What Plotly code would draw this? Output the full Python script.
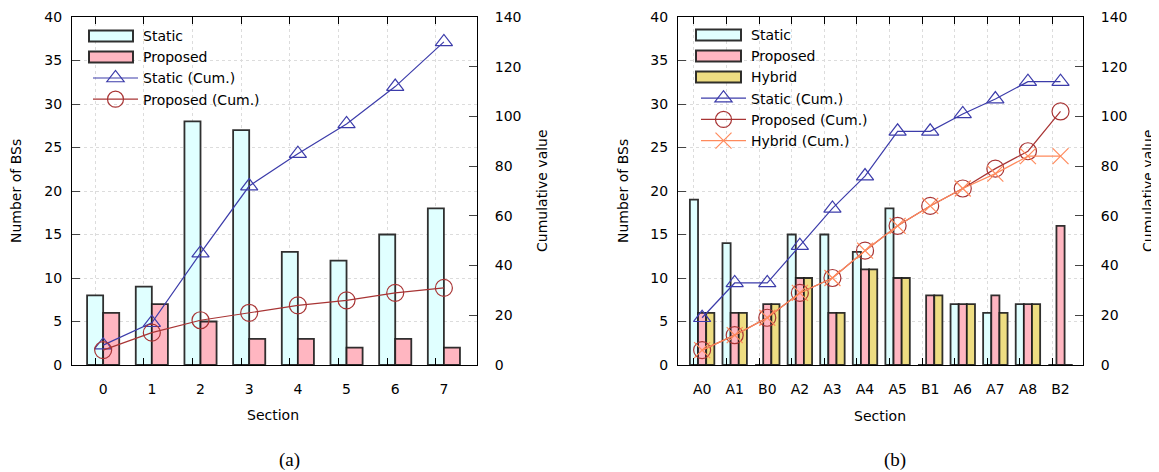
import plotly.graph_objects as go

# ---------------- data ----------------
sections_a = ["0", "1", "2", "3", "4", "5", "6", "7"]
static_a = [8, 9, 28, 27, 13, 12, 15, 18]
proposed_a = [6, 7, 5, 3, 3, 2, 3, 2]
static_cum_a = [8, 17, 45, 72, 85, 97, 112, 130]
proposed_cum_a = [6, 13, 18, 21, 24, 26, 29, 31]

sections_b = ["A0", "A1", "B0", "A2", "A3", "A4", "A5", "B1", "A6", "A7", "A8", "B2"]
static_b = [19, 14, 0, 15, 15, 13, 18, 0, 7, 6, 7, 0]
proposed_b = [6, 6, 7, 10, 6, 11, 10, 8, 7, 8, 7, 16]
hybrid_b = [6, 6, 7, 10, 6, 11, 10, 8, 7, 6, 7, 0]
static_cum_b = [19, 33, 33, 48, 63, 76, 94, 94, 101, 107, 114, 114]
proposed_cum_b = [6, 12, 19, 29, 35, 46, 56, 64, 71, 79, 86, 102]
hybrid_cum_b = [6, 12, 19, 29, 35, 46, 56, 64, 71, 77, 84, 84]

left_ticks = [0, 5, 10, 15, 20, 25, 30, 35, 40]
right_ticks = [0, 20, 40, 60, 80, 100, 120, 140]

# ---------------- style ----------------
PAGE_OFF = 8          # default body margin of the html page
W, H = 1159 - PAGE_OFF, 472 - PAGE_OFF
FONT = "DejaVu Sans"
FS = 14
C_STATIC = "#e0ffff"
C_PROP = "#ffb6c1"
C_HYB = "#eedd82"
L_STATIC = "#3c3caa"
L_PROP = "#a83434"
L_HYB = "#ff8a5c"
OUTLINE = dict(color="rgba(25,25,25,0.9)", width=1.8)

xa = list(range(len(sections_a)))
xb = list(range(len(sections_b)))

def px_x(p):
    return (p - PAGE_OFF) / W

def px_y(p):
    return 1 - (p - PAGE_OFF) / H

fig = go.Figure()

def legend_dummy(name, legend):
    fig.add_trace(go.Scatter(x=[None], y=[None], mode="lines", name=name,
                             line=dict(color="rgba(0,0,0,0)", width=0),
                             xaxis="x", yaxis="y", legend=legend, hoverinfo="skip"))

# ----- panel (a) -----
legend_dummy("Static", "legend")
legend_dummy("Proposed", "legend")
fig.add_trace(go.Bar(x=xa, y=static_a, width=0.33, offset=-0.33, name="Static",
                     marker=dict(color=C_STATIC, line=OUTLINE), showlegend=False,
                     xaxis="x", yaxis="y"))
fig.add_trace(go.Bar(x=xa, y=proposed_a, width=0.33, offset=0.0, name="Proposed",
                     marker=dict(color=C_PROP, line=OUTLINE), showlegend=False,
                     xaxis="x", yaxis="y"))
fig.add_trace(go.Scatter(x=xa, y=static_cum_a, mode="lines+markers", name="Static (Cum.)",
                         line=dict(color=L_STATIC, width=1.2),
                         marker=dict(symbol="triangle-up-open", size=15,
                                     line=dict(color=L_STATIC, width=1.2)),
                         xaxis="x", yaxis="y2", legend="legend"))
fig.add_trace(go.Scatter(x=xa, y=proposed_cum_a, mode="lines+markers", name="Proposed (Cum.)",
                         line=dict(color=L_PROP, width=1.2),
                         marker=dict(symbol="circle-open", size=17,
                                     line=dict(color=L_PROP, width=1.2)),
                         xaxis="x", yaxis="y2", legend="legend"))

# ----- panel (b) -----
legend_dummy("Static", "legend2")
legend_dummy("Proposed", "legend2")
legend_dummy("Hybrid", "legend2")
fig.add_trace(go.Bar(x=xb, y=static_b, width=0.25, offset=-0.375, name="Static",
                     marker=dict(color=C_STATIC, line=OUTLINE), showlegend=False,
                     xaxis="x2", yaxis="y3"))
fig.add_trace(go.Bar(x=xb, y=proposed_b, width=0.25, offset=-0.125, name="Proposed",
                     marker=dict(color=C_PROP, line=OUTLINE), showlegend=False,
                     xaxis="x2", yaxis="y3"))
fig.add_trace(go.Bar(x=xb, y=hybrid_b, width=0.25, offset=0.125, name="Hybrid",
                     marker=dict(color=C_HYB, line=OUTLINE), showlegend=False,
                     xaxis="x2", yaxis="y3"))
fig.add_trace(go.Scatter(x=xb, y=static_cum_b, mode="lines+markers", name="Static (Cum.)",
                         line=dict(color=L_STATIC, width=1.2),
                         marker=dict(symbol="triangle-up-open", size=15,
                                     line=dict(color=L_STATIC, width=1.2)),
                         xaxis="x2", yaxis="y4", legend="legend2"))
fig.add_trace(go.Scatter(x=xb, y=proposed_cum_b, mode="lines+markers", name="Proposed (Cum.)",
                         line=dict(color=L_PROP, width=1.2),
                         marker=dict(symbol="circle-open", size=17,
                                     line=dict(color=L_PROP, width=1.2)),
                         xaxis="x2", yaxis="y4", legend="legend2"))
fig.add_trace(go.Scatter(x=xb, y=hybrid_cum_b, mode="lines+markers", name="Hybrid (Cum.)",
                         line=dict(color=L_HYB, width=1.2),
                         marker=dict(symbol="x-thin-open", size=16,
                                     line=dict(color=L_HYB, width=1.2)),
                         xaxis="x2", yaxis="y4", legend="legend2"))

# invisible carriers for grid/tick overlay axes
fig.add_trace(go.Scatter(x=[None], y=[None], xaxis="x3", yaxis="y", showlegend=False, hoverinfo="skip"))
fig.add_trace(go.Scatter(x=[None], y=[None], xaxis="x4", yaxis="y3", showlegend=False, hoverinfo="skip"))

# ---------------- geometry ----------------
dom_a = [px_x(72), px_x(477)]
dom_b = [px_x(678), px_x(1083)]
dom_y = [px_y(365), px_y(17)]

rng_a = [-0.64, 7.68]
rng_b = [-0.74, 11.69]

tickfont = dict(family=FONT, size=FS, color="black")
grid = dict(showgrid=True, gridcolor="#dcdcdc", griddash="dot", gridwidth=1)

def label_xaxis(domain, rng, vals, text):
    return dict(domain=domain, range=rng, tickmode="array", tickvals=vals, ticktext=text,
                ticks="", showgrid=False, zeroline=False, showline=True, linecolor="black",
                linewidth=1, mirror=True, tickfont=tickfont, ticklabelstandoff=11,
                automargin=False, fixedrange=True)

def grid_xaxis(over, anchor, rng, vals):
    return dict(overlaying=over, anchor=anchor, range=rng, tickmode="array", tickvals=vals,
                ticks="inside", ticklen=7, tickcolor="black", mirror="ticks", showline=True,
                linecolor="black", showticklabels=False, zeroline=False, automargin=False,
                **grid)

def left_yaxis(anchor):
    return dict(domain=dom_y, range=[0, 40], tickmode="array", tickvals=left_ticks,
                ticks="inside", ticklen=8, showline=True, linecolor="black", zeroline=False,
                tickfont=tickfont, anchor=anchor, automargin=False, ticklabelstandoff=6, **grid)

def right_yaxis(over, anchor):
    return dict(overlaying=over, side="right", anchor=anchor, range=[0, 140], tickmode="array",
                tickvals=right_ticks, ticks="inside", ticklen=8, showline=True,
                linecolor="black", showgrid=False, zeroline=False, tickfont=tickfont,
                automargin=False, ticklabelstandoff=14)

fig.update_layout(
    width=W, height=H,
    margin=dict(l=0, r=0, t=0, b=0),
    paper_bgcolor="white", plot_bgcolor="white",
    font=dict(family=FONT, size=FS, color="black"),
    barmode="overlay",
    xaxis=dict(anchor="y", **label_xaxis(dom_a, rng_a, xa, sections_a)),
    xaxis3=grid_xaxis("x", "y", rng_a, [v - 0.165 for v in xa]),
    yaxis=left_yaxis("x"),
    yaxis2=right_yaxis("y", "x"),
    xaxis2=dict(anchor="y3", **label_xaxis(dom_b, rng_b, xb, sections_b)),
    xaxis4=grid_xaxis("x2", "y3", rng_b, [v - 0.25 for v in xb]),
    yaxis3=left_yaxis("x2"),
    yaxis4=right_yaxis("y3", "x2"),
    legend=dict(x=px_x(88), y=px_y(20), xanchor="left", yanchor="top",
                bgcolor="rgba(255,255,255,0)", font=dict(family=FONT, size=FS),
                itemwidth=45, tracegroupgap=0),
    legend2=dict(x=px_x(696), y=px_y(19), xanchor="left", yanchor="top",
                 bgcolor="rgba(255,255,255,0)", font=dict(family=FONT, size=FS),
                 itemwidth=45, tracegroupgap=0),
    showlegend=True,
)

# legend swatches for the bar series (wide outlined boxes)
shapes = []
def swatch(x0, x1, yc, color):
    shapes.append(dict(type="rect", xref="paper", yref="paper",
                       x0=px_x(x0), x1=px_x(x1), y0=px_y(yc + 5.5), y1=px_y(yc - 5.5),
                       fillcolor=color, line=dict(color="rgba(25,25,25,0.9)", width=2),
                       layer="above"))

swatch(89, 133, 36, C_STATIC)
swatch(89, 133, 57, C_PROP)
swatch(696, 741, 35, C_STATIC)
swatch(696, 741, 56, C_PROP)
swatch(696, 741, 77, C_HYB)
fig.update_layout(shapes=shapes)

ann = []
def add_text(text, x, y, angle=0, size=FS, family=FONT):
    ann.append(dict(text=text, x=px_x(x), y=px_y(y), xref="paper", yref="paper",
                    showarrow=False, textangle=angle, xanchor="center", yanchor="middle",
                    font=dict(family=family, size=size, color="black")))

add_text("Number of BSs", 16, 191, -90)
add_text("Cumulative value", 542, 191, -90)
add_text("Section", 273, 415)
add_text("Number of BSs", 623, 191, -90)
add_text("Cumulative value", 1148, 191, -90)
add_text("Section", 880, 416)
add_text("(a)", 289, 460, size=19, family="Liberation Serif")
add_text("(b)", 895, 460, size=19, family="Liberation Serif")
fig.update_layout(annotations=ann)

fig.write_html("out.html")
